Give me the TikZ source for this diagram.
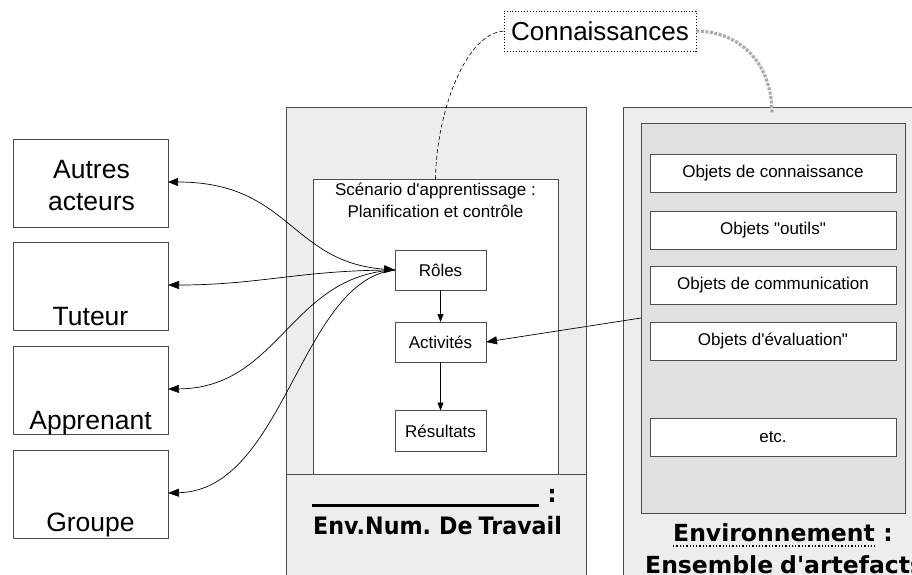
\documentclass[tikz,border=0pt]{standalone}
\usepackage{fontspec}
\setmainfont{Liberation Sans}[Ligatures=TeXOff]
\newfontfamily\boldlab[FakeStretch=0.925]{DejaVu Sans}
\newfontfamily\boldwide{DejaVu Sans}
\usetikzlibrary{arrows.meta}
\definecolor{pane}{gray}{0.93}
\definecolor{panein}{gray}{0.88}
\definecolor{edge}{gray}{0.3}
\begin{document}
\begin{tikzpicture}[x=1pt,y=-1pt,
  box/.style={draw=edge, line width=0.8pt, inner sep=0pt, outer sep=0pt},
  actor/.style={box, fill=white, minimum width=155, minimum height=88},
  bigtxt/.style={font=\fontsize{26.5}{32}\selectfont, inner sep=0pt},
  smalltxt/.style={font=\fontsize{17}{22}\selectfont},
  stepbox/.style={box, fill=white, minimum width=91, minimum height=40, smalltxt},
  item/.style={box, fill=white, minimum width=246, minimum height=38, smalltxt},
  arr/.style={-{Triangle[length=11pt,width=8pt]}, line width=0.7pt},
  darr/.style={{Triangle[length=10pt,width=8pt]}-{Triangle[length=11pt,width=8pt]}, line width=0.7pt}
]
\useasboundingbox (0,0) rectangle (912,574);
\clip (0,0) rectangle (912,574);
\fill[white] (0,0) rectangle (912,574);

% left actors
\node[actor] (autres) at (90.5,183) {};
\node[bigtxt, align=center] (autrestxt) at (91.5,186) {Autres\\acteurs};
\node[actor] (tuteur) at (90.5,286) {};
\node[bigtxt, anchor=base] (tuteurtxt) at (90.5,325) {Tuteur};
\node[actor] (appr) at (90.5,390) {};
\node[bigtxt, anchor=base] (apprtxt) at (90.5,429) {Apprenant};
\node[actor] (groupe) at (90.5,494) {};
\node[bigtxt, anchor=base] (groupetxt) at (90.5,531) {Groupe};

% ENT pane
\node[box, fill=pane, minimum width=300, minimum height=493] (ent) at (436,353.5) {};
\coordinate (divL) at (286,474);
\coordinate (divR) at (586,474);
\draw[edge, line width=0.8pt] (divL) -- (divR);
\node[box, fill=white, minimum width=245, minimum height=295] (scen) at (435.5,326.5) {};
\node[align=center, anchor=north, inner sep=0pt, font=\fontsize{17}{22}\selectfont] (scentxt) at (435.5,183) {Sc\'enario d'apprentissage :\\Planification et contr\^ole};
\node[stepbox] (roles) at (440.5,270) {R\^oles};
\node[stepbox] (act) at (440.5,342) {Activit\'es};
\node[stepbox, minimum height=41] (res) at (440.5,431) {R\'esultats};
\draw[arr, -{Triangle[length=8pt,width=6pt]}] (roles) -- (act);
\draw[arr, -{Triangle[length=8pt,width=6pt]}] (act) -- (res);

% ENT caption
\coordinate (ulA) at (312,505);
\coordinate (ulB) at (539,505);
\draw[line width=3pt] (ulA) -- (ulB);
\node[anchor=base, inner sep=0pt, font=\boldlab\bfseries\fontsize{24}{28}\selectfont] (colon) at (552,502) {:};
\node[anchor=base, inner sep=0pt, font=\boldlab\bfseries\fontsize{24}{28}\selectfont] (entlab) at (437.5,534) {Env.Num.\hspace{8pt}De\hspace{6pt}Travail};

% right pane
\node[box, fill=pane, minimum width=337, minimum height=493] (envp) at (791.5,353.5) {};
\node[box, fill=panein, minimum width=264, minimum height=390] (artef) at (773,318) {};
\node[item] (o1) at (773,173.5) {Objets de connaissance};
\node[item] (o2) at (773,230) {Objets "outils"};
\node[item] (o3) at (773,285.5) {Objets de communication};
\node[item] (o4) at (773,341) {Objets d'\'evaluation"};
\node[item] (o5) at (773,437.5) {etc.};

% right caption
\node[anchor=base west, inner sep=0pt, font=\boldwide\bfseries\fontsize{23.5}{28}\selectfont] (envw) at (673,541) {Environnement};
\node[anchor=base west, inner sep=0pt, font=\boldwide\bfseries\fontsize{23.5}{28}\selectfont] (envc) at (envw.base east) {\ :};
\draw[dotted, line width=1.3pt] ([yshift=-5pt]envw.base west) -- ([yshift=-5pt]envw.base east);
\node[anchor=base west, inner sep=0pt, font=\boldwide\bfseries\fontsize{23.5}{28}\selectfont] (ensl) at (645,573) {Ensemble\hspace{7pt}d'artefacts};

% Connaissances
\node[draw, dotted, fill=white, line width=0.9pt, minimum width=192, minimum height=40, inner sep=0pt, font=\fontsize{26}{30}\selectfont] (conn) at (600,31) {Connaissances};
\draw[dashed, line width=0.6pt, dash pattern=on 4pt off 2.5pt] (scen.north) .. controls (436,120) and (462,35) .. (conn.west);
\coordinate (knend) at (772,113);
\draw[gray!65, line width=3.2pt, dash pattern=on 3pt off 1.5pt] (conn.east) .. controls (745,32) and (772,68) .. (knend);

% artefact -> activites
\coordinate (src) at (641,318);
\draw[arr] (src) -- (act.east);

% roles <-> actors
\draw[darr] (autres.east |- 0,182) .. controls (290,182) and (290,262) .. (roles.west);
\draw[arr] (roles.west) .. controls (300,270) and (260,285) .. (tuteur.east |- 0,285);
\draw[arr] (roles.west) .. controls (290,275) and (280,388) .. (appr.east |- 0,389);
\draw[arr] (roles.west) .. controls (300,280) and (285,490) .. (groupe.east |- 0,493);
\end{tikzpicture}
\end{document}
